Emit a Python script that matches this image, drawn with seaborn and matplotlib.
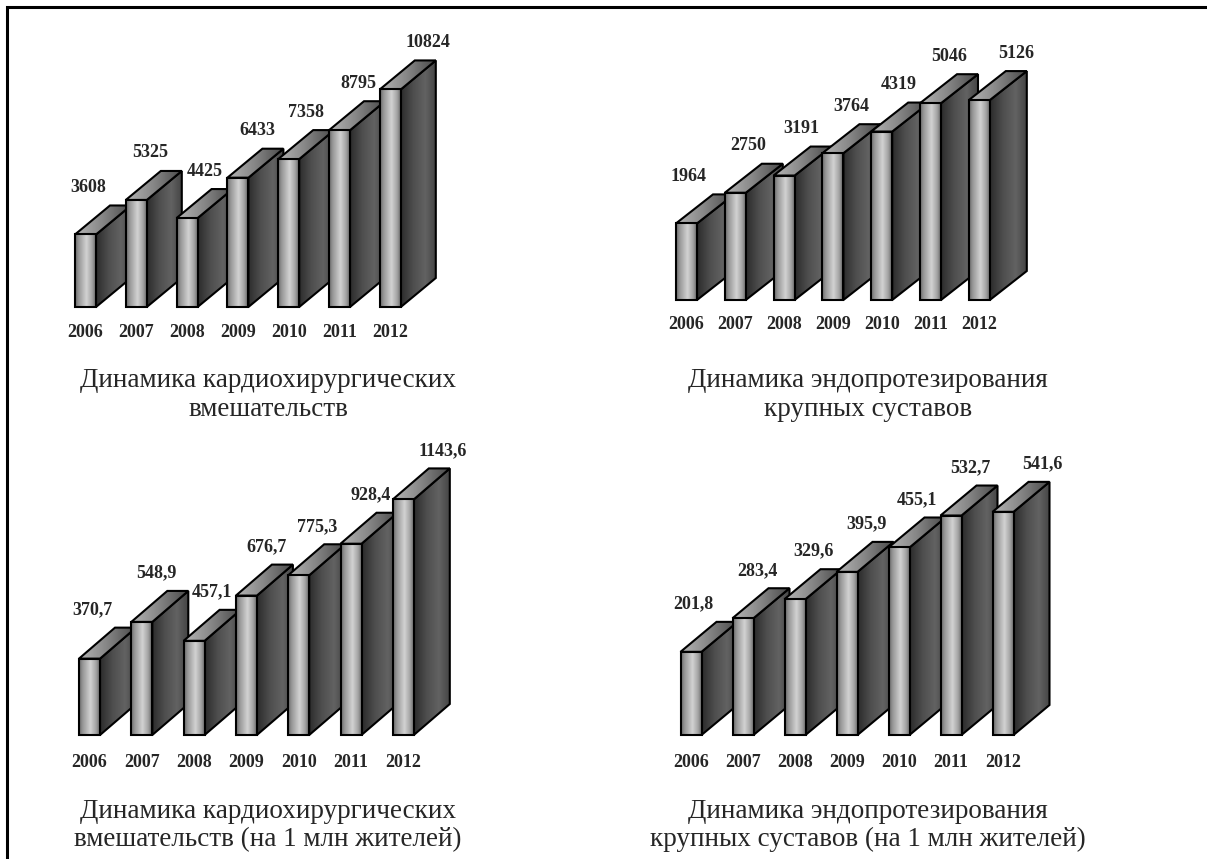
import numpy as np
import matplotlib
matplotlib.use("Agg")
import matplotlib.pyplot as plt
from matplotlib.patches import Polygon
from matplotlib.lines import Line2D
import seaborn as sns

# ---------------- data ----------------
years = ["2006", "2007", "2008", "2009", "2010", "2011", "2012"]
cardio_total = [3608, 5325, 4425, 6433, 7358, 8795, 10824]
joints_total = [1964, 2750, 3191, 3764, 4319, 5046, 5126]
cardio_per_million = [370.7, 548.9, 457.1, 676.7, 775.3, 928.4, 1143.6]
joints_per_million = [201.8, 283.4, 329.6, 395.9, 455.1, 532.7, 541.6]

title_cardio = ["Динамика кардиохирургических", "вмешательств"]
title_joints = ["Динамика эндопротезирования", "крупных суставов"]
title_cardio_pm = ["Динамика кардиохирургических", "вмешательств (на 1 млн жителей)"]
title_joints_pm = ["Динамика эндопротезирования", "крупных суставов (на 1 млн жителей)"]

# ---------------- style ----------------
sns.set_style("white")
plt.rcParams["font.family"] = ["Liberation Serif", "DejaVu Serif"]

W, H = 1207, 859
fig = plt.figure(figsize=(W / 100, H / 100), dpi=100)

def fmt_int(v):
    return f"{int(v)}"

def fmt_dec(v):
    return f"{v:.1f}".replace(".", ",")

# layout per panel (pixels)
panels = [
    dict(values=cardio_total, fmt=fmt_int, title=title_cardio,
         c0=85.5, sp=50.8, base=307, ppu=0.0201, depth=(35, 29), top=15,
         pad=12.0, tx=268, tb=(387, 416)),
    dict(values=joints_total, fmt=fmt_int, title=title_joints,
         c0=686.5, sp=48.8, base=300, ppu=0.0390, depth=(37, 29), top=15,
         pad=11.3, tx=868, tb=(387, 416)),
    dict(values=cardio_per_million, fmt=fmt_dec, title=title_cardio_pm,
         c0=89.5, sp=52.3, base=735, ppu=0.206, depth=(36, 31), top=440,
         pad=13.5, tx=268, tb=(818, 846)),
    dict(values=joints_per_million, fmt=fmt_dec, title=title_joints_pm,
         c0=691.0, sp=52.0, base=735, ppu=0.412, depth=(36, 30), top=440,
         pad=13.5, tx=868, tb=(818, 846)),
]
label_shift = [0.05, 0.27, 0.35, 0.38, 0.35, 0.38, 0.75]
front_px = 21

def cmap_img(stops, n=64):
    pos = np.array([s[0] for s in stops])
    cols = np.array([matplotlib.colors.to_rgb(s[1]) for s in stops])
    t = np.linspace(0, 1, n)
    img = np.stack([np.interp(t, pos, cols[:, k]) for k in range(3)], axis=-1)
    return img[np.newaxis, :, :]

front_grad = cmap_img([(0, "#6c6c6c"), (0.18, "#989898"), (0.55, "#d2d2d2"),
                       (0.82, "#a4a4a4"), (1, "#6a6a6a")])
side_grad = cmap_img([(0, "#2c2c2c"), (0.35, "#4e4e4e"), (0.7, "#626262"),
                      (1, "#454545")])
top_grad = cmap_img([(0, "#b4b4b4"), (0.5, "#858585"), (1, "#4a4a4a")])

for P in panels:
    xl, xr_lim = -0.7, 7.6
    left = P["c0"] + xl * P["sp"]
    right = P["c0"] + xr_lim * P["sp"]
    ymax = (P["base"] - P["top"]) / P["ppu"]
    ax = fig.add_axes([left / W, (H - P["base"]) / H,
                       (right - left) / W, (P["base"] - P["top"]) / H])
    sns.barplot(x=years, y=P["values"], color="#b0b0b0", width=front_px / P["sp"],
                saturation=1, edgecolor="black", linewidth=1.5, ax=ax)
    dx = P["depth"][0] / P["sp"]
    dy = P["depth"][1] / P["ppu"]
    for i, p in enumerate(list(ax.patches)):
        z = 10 + i
        x0, w, h = p.get_x(), p.get_width(), p.get_height()
        x1 = x0 + w
        side = Polygon([(x1, 0), (x1 + dx, dy), (x1 + dx, h + dy), (x1, h)],
                       closed=True, facecolor="none", edgecolor="black",
                       linewidth=1.5, joinstyle="miter", zorder=z + 0.1, clip_on=False)
        top = Polygon([(x0, h), (x1, h), (x1 + dx, h + dy), (x0 + dx, h + dy)],
                      closed=True, facecolor="none", edgecolor="black",
                      linewidth=1.5, joinstyle="miter", zorder=z + 0.3, clip_on=False)
        ax.add_patch(side)
        ax.add_patch(top)
        im = ax.imshow(side_grad, extent=(x1, x1 + dx, 0, h + dy), aspect="auto",
                       interpolation="bilinear", zorder=z)
        im.set_clip_path(side)
        im = ax.imshow(top_grad, extent=(x0, x1 + dx, h, h + dy), aspect="auto",
                       interpolation="bilinear", zorder=z + 0.2)
        im.set_clip_path(top)
        p.set_facecolor("none")
        p.set_zorder(z + 0.5)
        p.set_clip_on(False)
        p.set_joinstyle("miter")
        im = ax.imshow(front_grad, extent=(x0, x1, 0, h), aspect="auto",
                       interpolation="bilinear", zorder=z + 0.4)
        im.set_clip_path(p)
        ax.annotate(P["fmt"](P["values"][i]), xy=(x0 + w / 2, h + dy),
                    xytext=(label_shift[i] * P["sp"], 18), textcoords="offset pixels",
                    ha="center", va="center", fontsize=13, fontweight="bold",
                    zorder=50)
    ax.set_xlim(xl, xr_lim)
    ax.set_ylim(0, ymax)
    ax.set_xlabel("")
    ax.set_ylabel("")
    ax.set_yticks([])
    for s in ax.spines.values():
        s.set_visible(False)
    ax.tick_params(axis="x", length=0, pad=P["pad"])
    for lab in ax.get_xticklabels():
        lab.set_fontweight("bold")
        lab.set_fontsize(13)
    ax.patch.set_alpha(0)
    for k, line in enumerate(P["title"]):
        fig.text(P["tx"] / W, 1 - P["tb"][k] / H, line, ha="center", va="baseline",
                 fontsize=19.5)

# frame (top and left border)
fig.add_artist(Line2D([7 / W, 7 / W, 1.0], [0.0, 1 - 7 / H, 1 - 7 / H],
                      color="black", linewidth=2.2, transform=fig.transFigure,
                      solid_joinstyle="miter"))

fig.savefig("out.png", dpi=100)
